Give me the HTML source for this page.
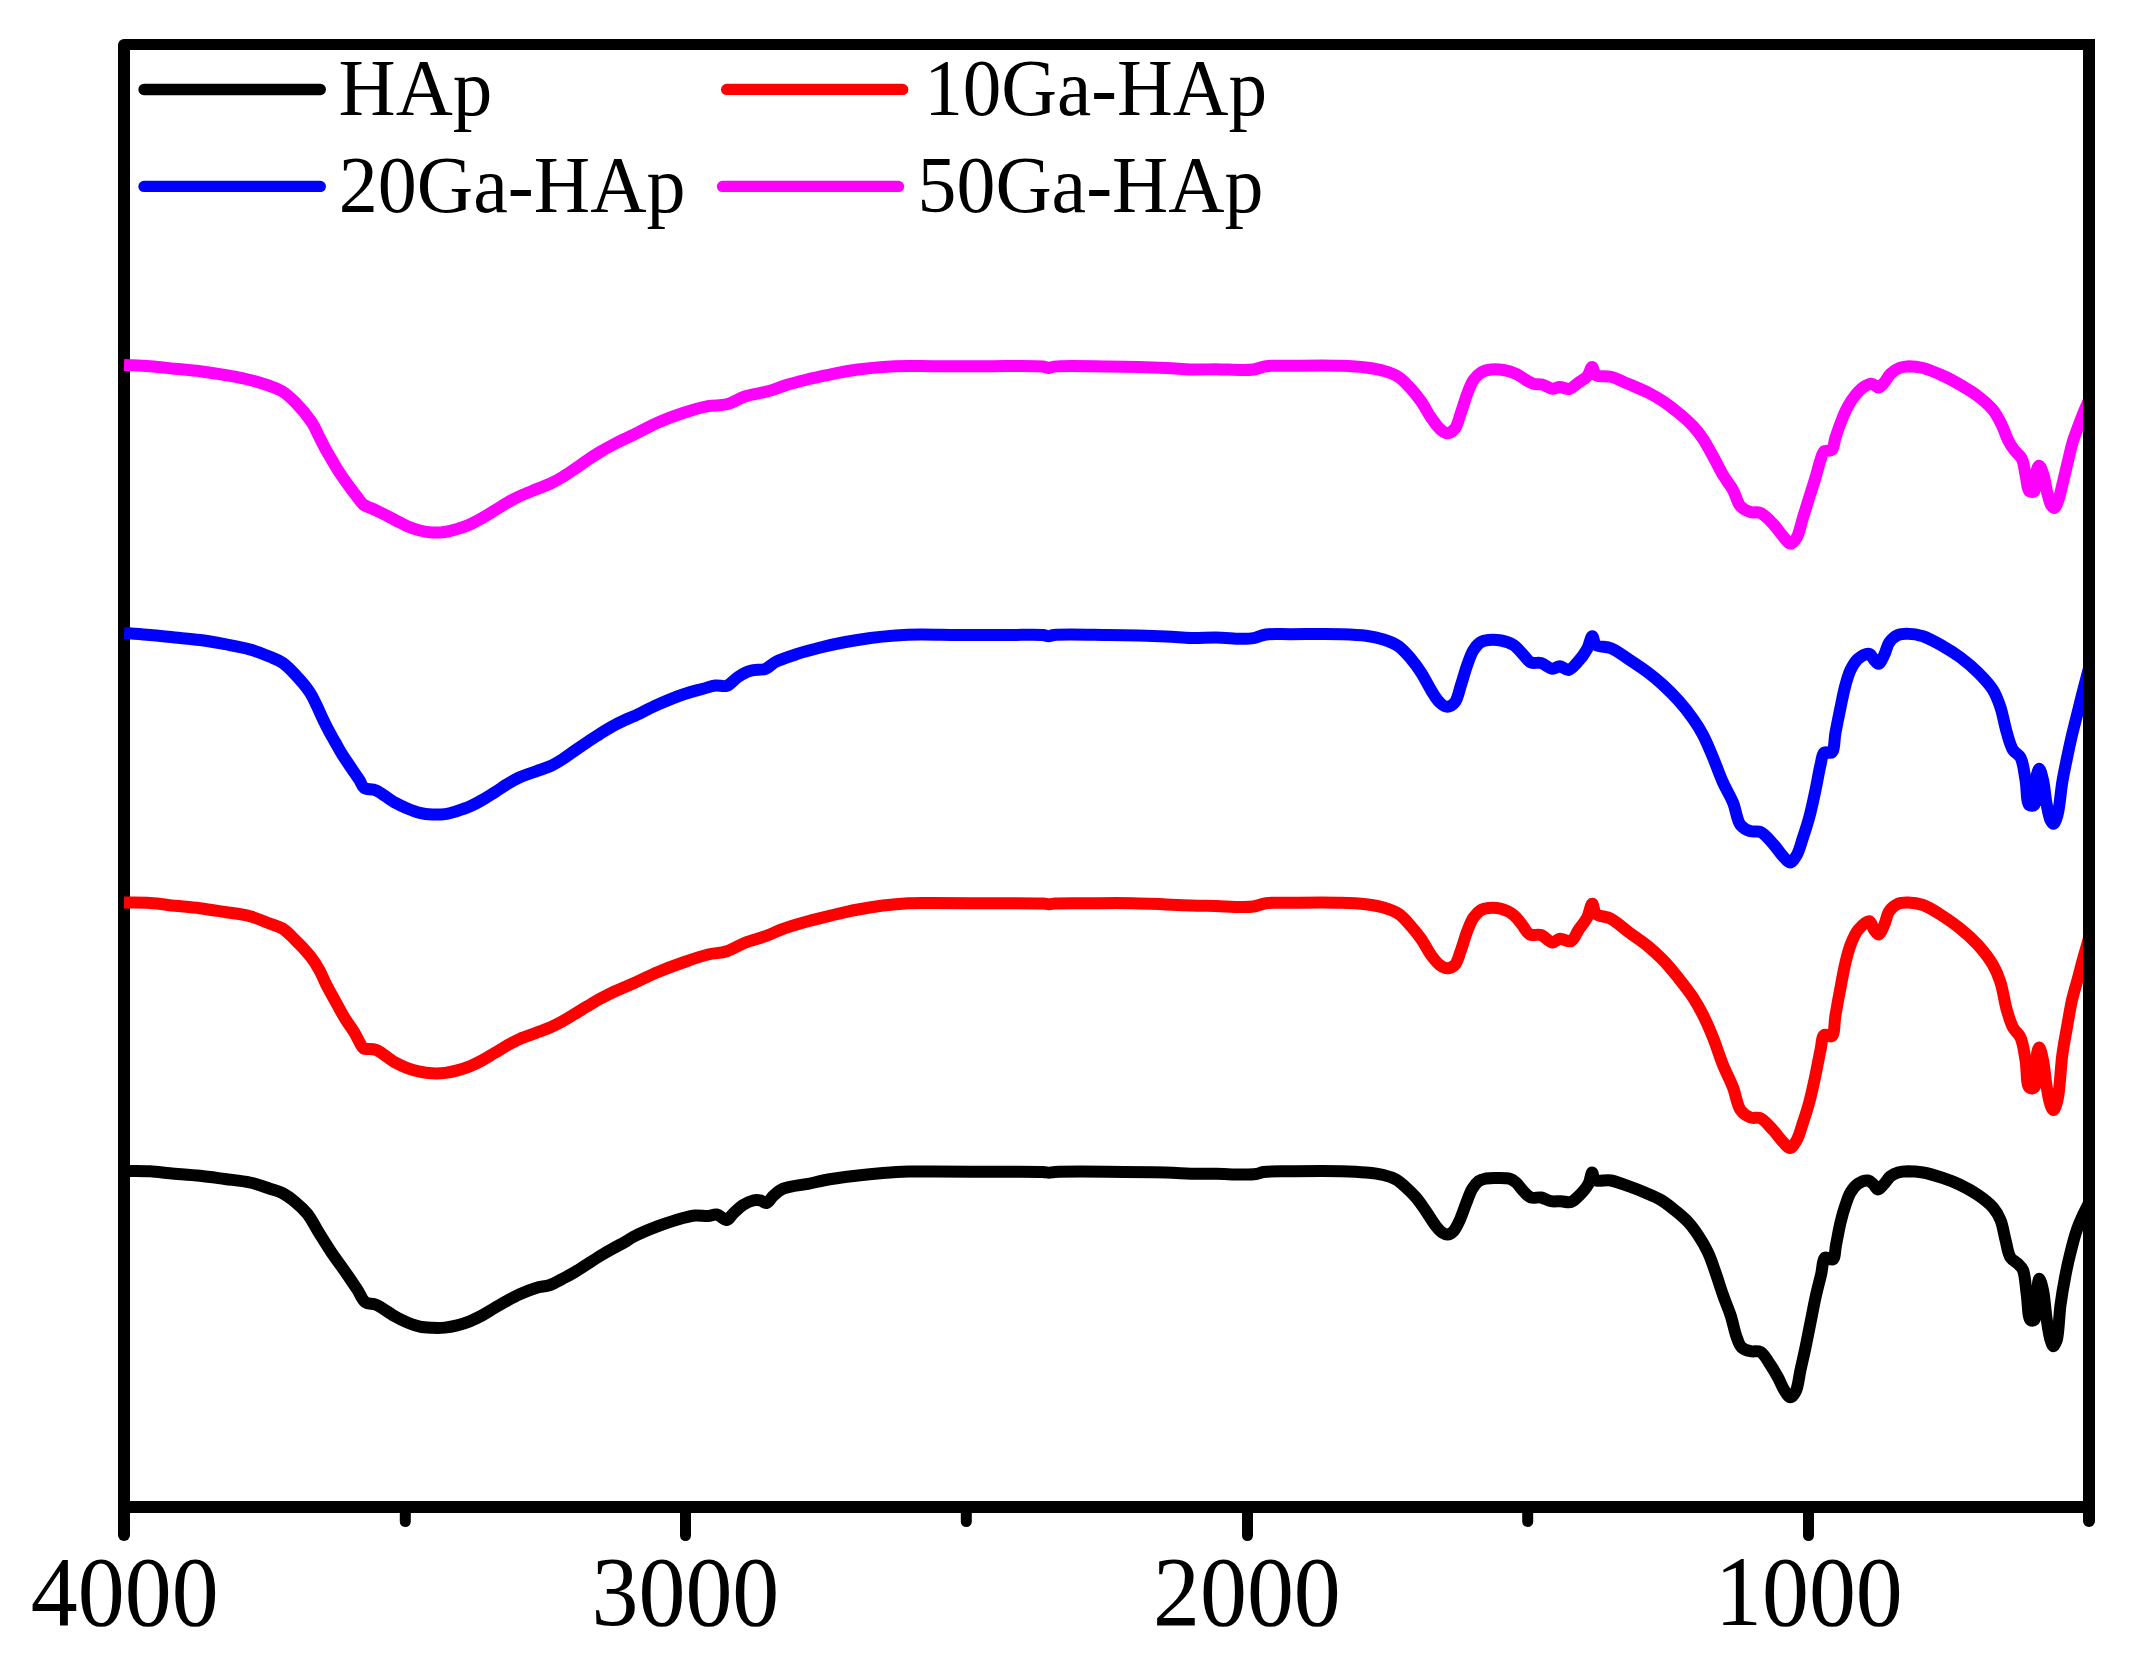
<!DOCTYPE html>
<html lang="en"><head><meta charset="utf-8"><title>FTIR spectra</title>
<style>
html,body{margin:0;padding:0;background:#fff;}
body{width:2131px;height:1662px;overflow:hidden;}
svg{display:block;}
text{font-family:"Liberation Serif","Times New Roman",serif;fill:#000;}
.leg{font-size:78px;}
.tick{font-size:92.8px;text-anchor:middle;}
.crv{fill:none;stroke-width:12;stroke-linejoin:round;stroke-linecap:butt;}
.ax{fill:none;stroke:#000;}
</style></head><body>
<svg width="2131" height="1662" viewBox="0 0 2131 1662">
<defs><clipPath id="plot"><rect x="124" y="50" width="1959" height="1451"/></clipPath></defs>
<rect width="2131" height="1662" fill="#fff"/>
<!-- frame: left, top -->
<line class="ax" stroke-width="12" stroke-linecap="round" x1="124" y1="45" x2="124" y2="1535"/>
<rect x="124" y="39" width="1971" height="11" fill="#000"/>
<!-- bottom axis -->
<line class="ax" stroke-width="12" x1="118" y1="1507" x2="2095" y2="1507"/>
<line class="ax" stroke-width="11" stroke-linecap="round" x1="685.5" y1="1507" x2="685.5" y2="1535.5"/>
<line class="ax" stroke-width="11" stroke-linecap="round" x1="1247.5" y1="1507" x2="1247.5" y2="1535.5"/>
<line class="ax" stroke-width="11" stroke-linecap="round" x1="1808.5" y1="1507" x2="1808.5" y2="1535.5"/>
<line class="ax" stroke-width="11" stroke-linecap="round" x1="405.3" y1="1507" x2="405.3" y2="1521.5"/>
<line class="ax" stroke-width="11" stroke-linecap="round" x1="966.3" y1="1507" x2="966.3" y2="1521.5"/>
<line class="ax" stroke-width="11" stroke-linecap="round" x1="1527.7" y1="1507" x2="1527.7" y2="1521.5"/>
<g clip-path="url(#plot)">
<path class="crv" stroke="#000" d="M124.0,1171.0C132.7,1171.1 141.9,1170.8 150.0,1171.3C157.1,1171.7 162.7,1172.6 170.0,1173.3C179.0,1174.1 190.5,1174.8 200.0,1175.8C208.7,1176.7 216.7,1177.9 225.0,1179.0C233.3,1180.1 242.2,1180.8 250.0,1182.5C257.1,1184.1 264.1,1186.8 270.0,1188.7C274.7,1190.2 278.5,1191.0 282.5,1193.1C286.8,1195.3 291.0,1198.5 295.0,1201.8C299.3,1205.3 303.5,1209.1 307.4,1213.9C311.9,1219.6 315.7,1227.6 319.9,1234.3C324.0,1240.9 328.1,1247.6 332.4,1253.9C336.5,1259.9 340.8,1265.4 344.9,1271.3C349.1,1277.3 353.7,1284.2 357.4,1289.8C360.4,1294.4 362.0,1299.9 365.5,1302.3C368.5,1304.4 372.2,1303.2 376.1,1304.8C381.6,1307.1 389.1,1313.2 394.8,1316.3C399.3,1318.8 403.1,1320.8 407.3,1322.5C411.4,1324.2 415.6,1325.7 419.8,1326.6C423.9,1327.5 428.1,1327.6 432.3,1327.8C436.5,1328.0 440.7,1328.0 444.8,1327.6C449.0,1327.2 453.1,1326.4 457.2,1325.4C461.4,1324.3 465.6,1322.9 469.7,1321.3C473.9,1319.6 478.1,1317.6 482.2,1315.4C486.4,1313.1 490.5,1310.4 494.7,1307.9C498.9,1305.5 503.0,1303.0 507.2,1300.7C511.3,1298.4 515.2,1296.2 519.7,1294.2C524.7,1291.9 530.7,1289.5 536.0,1287.9C540.8,1286.5 545.6,1286.5 550.0,1285.0C554.4,1283.5 558.4,1280.9 562.5,1278.8C566.7,1276.6 570.9,1274.4 575.0,1272.0C579.2,1269.5 583.3,1266.7 587.5,1264.0C591.7,1261.3 595.8,1258.6 600.0,1256.0C604.1,1253.5 608.3,1251.1 612.5,1248.8C616.6,1246.4 621.3,1244.1 625.0,1242.0C628.0,1240.3 629.5,1238.8 633.0,1237.0C638.9,1233.9 649.6,1229.4 658.0,1226.2C666.3,1223.1 676.0,1219.8 683.0,1218.0C687.8,1216.7 691.3,1215.8 695.5,1215.5C699.6,1215.2 704.2,1216.2 708.0,1216.0C711.2,1215.8 713.8,1214.0 716.8,1214.5C720.1,1215.1 723.9,1220.4 726.8,1220.0C729.2,1219.6 730.6,1216.0 733.0,1213.8C735.9,1211.0 739.5,1207.3 743.0,1205.0C746.2,1203.0 749.8,1201.2 753.0,1200.5C755.6,1199.9 758.2,1200.0 760.5,1200.5C762.7,1200.9 764.8,1203.4 766.8,1203.0C769.0,1202.5 770.6,1198.5 773.0,1196.2C775.8,1193.7 778.6,1190.7 783.0,1188.8C789.2,1186.0 799.7,1185.4 808.0,1183.8C816.3,1182.1 824.6,1180.1 833.0,1178.8C841.3,1177.4 849.7,1176.5 858.0,1175.5C866.3,1174.5 874.7,1173.7 883.0,1173.0C891.3,1172.3 899.7,1171.7 908.0,1171.5C916.3,1171.3 923.2,1171.5 933.0,1171.5C946.8,1171.5 965.6,1171.7 983.0,1171.8C1002.1,1171.8 1033.4,1171.3 1043.0,1172.0C1046.0,1172.2 1047.0,1172.8 1049.0,1172.8C1051.0,1172.8 1051.7,1172.2 1055.0,1172.0C1068.9,1171.1 1142.2,1172.0 1166.0,1172.6C1177.3,1172.9 1182.7,1173.6 1191.0,1173.8C1199.3,1173.9 1207.7,1173.6 1216.0,1173.8C1224.3,1173.9 1233.7,1174.5 1241.0,1174.5C1246.6,1174.5 1251.9,1174.6 1256.0,1174.0C1259.0,1173.6 1260.2,1172.5 1263.5,1172.0C1269.8,1171.1 1280.5,1171.4 1291.0,1171.2C1305.2,1171.1 1327.2,1170.9 1341.0,1171.2C1350.8,1171.5 1358.4,1171.8 1366.0,1172.5C1372.4,1173.1 1378.2,1173.7 1383.5,1175.0C1388.1,1176.1 1392.2,1177.4 1396.0,1179.5C1399.7,1181.6 1402.7,1184.6 1406.0,1187.5C1409.4,1190.6 1412.8,1193.8 1416.0,1197.5C1419.5,1201.6 1422.7,1206.5 1426.0,1211.2C1429.4,1216.1 1432.9,1222.4 1436.0,1226.2C1438.2,1228.9 1440.1,1231.1 1442.2,1232.5C1443.9,1233.6 1445.5,1234.6 1447.2,1234.5C1449.2,1234.4 1451.6,1233.1 1453.5,1231.2C1456.0,1228.8 1457.8,1224.2 1459.8,1220.0C1462.0,1215.2 1463.9,1209.0 1466.0,1203.8C1468.0,1198.6 1469.8,1192.8 1472.2,1188.8C1474.1,1185.6 1476.1,1183.0 1478.5,1181.2C1480.7,1179.7 1483.3,1179.1 1486.0,1178.5C1489.1,1177.9 1492.4,1178.0 1496.0,1178.0C1500.2,1178.0 1506.2,1177.7 1509.8,1178.8C1512.4,1179.6 1514.0,1180.8 1516.0,1182.5C1518.6,1184.7 1520.9,1188.7 1523.5,1191.2C1525.9,1193.6 1528.1,1196.5 1531.0,1197.5C1533.9,1198.6 1537.7,1196.9 1541.0,1197.5C1544.4,1198.1 1547.6,1200.6 1551.0,1201.2C1554.3,1201.8 1557.7,1201.1 1561.0,1201.2C1564.3,1201.4 1568.1,1202.9 1571.0,1202.0C1573.9,1201.1 1576.0,1198.7 1578.5,1196.2C1581.8,1193.0 1586.2,1188.0 1588.5,1183.8C1590.5,1180.1 1591.1,1172.5 1592.2,1172.5C1593.2,1172.5 1592.7,1178.5 1594.8,1180.0C1597.7,1182.2 1605.6,1179.5 1611.0,1180.5C1616.8,1181.5 1622.7,1184.2 1628.5,1186.2C1634.4,1188.3 1640.4,1190.6 1646.0,1193.0C1651.2,1195.2 1656.1,1197.1 1661.0,1200.0C1666.2,1203.1 1671.3,1207.4 1676.0,1211.2C1680.4,1214.9 1684.8,1218.5 1688.5,1222.5C1692.1,1226.4 1694.9,1230.4 1698.0,1235.0C1701.5,1240.2 1705.1,1246.3 1708.0,1252.5C1711.0,1258.8 1713.1,1265.6 1715.5,1272.5C1718.1,1279.8 1720.4,1287.7 1723.0,1295.0C1725.4,1301.9 1728.2,1308.1 1730.5,1315.0C1732.9,1322.2 1734.5,1331.6 1736.8,1337.5C1738.3,1341.6 1739.3,1345.2 1741.8,1347.5C1744.0,1349.6 1747.4,1350.5 1750.5,1351.2C1753.7,1352.0 1757.5,1350.4 1760.5,1352.0C1764.4,1354.1 1767.5,1360.6 1770.5,1365.0C1773.3,1369.1 1775.7,1373.3 1778.0,1377.5C1780.3,1381.6 1782.0,1386.5 1784.2,1390.0C1786.1,1392.9 1788.3,1397.3 1790.3,1397.3C1792.2,1397.3 1794.3,1394.2 1795.8,1391.2C1798.2,1386.5 1798.9,1377.2 1800.5,1370.0C1802.1,1362.6 1803.9,1355.2 1805.5,1347.5C1807.2,1339.4 1808.8,1330.8 1810.5,1322.5C1812.2,1314.2 1813.7,1305.6 1815.5,1297.5C1817.2,1289.8 1819.3,1282.0 1821.0,1275.0C1822.5,1268.8 1822.4,1259.2 1825.3,1257.5C1827.2,1256.4 1831.0,1260.6 1832.8,1259.5C1835.3,1258.0 1834.9,1250.4 1836.0,1245.0C1837.4,1238.3 1838.8,1229.5 1840.5,1222.5C1842.0,1216.3 1843.7,1210.3 1845.5,1205.0C1847.1,1200.4 1848.3,1196.1 1850.5,1192.5C1852.5,1189.1 1855.0,1185.8 1858.0,1183.8C1860.9,1181.8 1865.3,1180.1 1868.0,1180.5C1870.0,1180.8 1871.4,1182.4 1873.0,1183.8C1874.8,1185.3 1876.2,1189.4 1878.0,1189.5C1879.9,1189.6 1882.2,1185.9 1884.2,1183.8C1886.4,1181.5 1888.1,1178.2 1890.5,1176.2C1892.7,1174.5 1895.2,1173.3 1898.0,1172.5C1901.0,1171.6 1904.3,1171.3 1908.0,1171.2C1912.5,1171.2 1917.7,1171.6 1923.0,1172.5C1929.2,1173.6 1936.6,1175.9 1943.0,1178.0C1949.1,1180.0 1954.8,1182.2 1960.5,1185.0C1966.4,1187.9 1972.5,1191.2 1978.0,1195.0C1983.4,1198.7 1989.1,1203.0 1993.0,1207.5C1996.3,1211.4 1998.5,1215.2 2000.5,1220.0C2002.9,1225.7 2003.8,1233.6 2005.5,1240.0C2007.1,1246.0 2007.8,1253.4 2010.5,1257.5C2012.5,1260.5 2015.8,1261.6 2018.0,1263.8C2020.0,1265.7 2021.7,1267.0 2023.0,1270.0C2025.3,1275.4 2025.5,1286.7 2026.8,1295.0C2028.0,1303.3 2027.8,1317.7 2030.5,1320.0C2031.5,1320.9 2033.3,1320.9 2034.2,1320.0C2036.8,1317.7 2035.8,1302.4 2036.8,1295.0C2037.5,1289.0 2038.1,1278.8 2039.2,1278.8C2040.3,1278.7 2041.9,1285.3 2043.0,1290.0C2044.7,1297.5 2045.3,1311.0 2046.8,1320.0C2047.9,1327.4 2049.0,1335.3 2050.5,1340.0C2051.4,1342.7 2052.5,1346.2 2053.5,1346.2C2054.5,1346.3 2055.8,1343.1 2056.8,1340.0C2058.8,1333.2 2059.0,1316.2 2060.5,1305.0C2061.9,1294.6 2063.7,1284.3 2065.5,1275.0C2067.1,1266.9 2068.6,1260.0 2070.5,1252.5C2072.4,1245.0 2074.4,1236.7 2076.8,1230.0C2078.7,1224.4 2080.9,1219.7 2083.0,1215.0C2084.9,1210.7 2087.0,1207.0 2089.0,1203.0"/>
<path class="crv" stroke="#ff0000" d="M124.0,902.5C132.7,902.7 141.4,902.4 150.0,903.0C158.4,903.5 166.7,904.9 175.0,905.8C183.3,906.6 191.7,907.2 200.0,908.2C208.3,909.3 216.7,910.7 225.0,912.0C233.3,913.3 242.2,914.2 250.0,916.2C257.1,918.2 264.1,921.5 270.0,923.7C274.7,925.5 278.5,926.1 282.5,928.5C286.9,931.2 290.7,935.4 295.0,939.7C300.2,944.8 306.9,951.8 311.2,957.4C314.6,961.8 316.9,965.7 319.3,969.9C321.6,974.0 323.1,978.3 325.2,982.4C327.3,986.6 329.6,990.8 331.8,994.9C334.1,999.1 336.4,1003.2 338.7,1007.3C341.0,1011.5 343.2,1015.7 345.8,1019.8C348.4,1024.0 351.8,1028.2 354.3,1032.3C356.6,1036.1 358.4,1040.6 360.2,1043.5C361.4,1045.5 361.7,1047.2 363.5,1048.3C366.1,1049.9 371.6,1048.2 376.0,1049.8C381.9,1052.0 389.1,1059.1 394.8,1062.3C399.3,1064.8 403.1,1066.5 407.3,1068.1C411.4,1069.6 415.6,1070.7 419.8,1071.6C423.9,1072.5 428.1,1073.1 432.3,1073.3C436.5,1073.5 440.7,1073.4 444.8,1072.9C449.0,1072.4 453.1,1071.5 457.2,1070.4C461.4,1069.3 465.6,1067.9 469.7,1066.3C473.9,1064.6 478.1,1062.6 482.2,1060.4C486.4,1058.1 490.5,1055.4 494.7,1052.9C498.9,1050.4 503.0,1047.8 507.2,1045.4C511.3,1043.1 515.2,1040.9 519.7,1038.9C524.7,1036.7 530.8,1034.9 536.0,1032.9C540.9,1031.1 545.5,1029.5 550.0,1027.5C554.3,1025.6 558.4,1023.5 562.5,1021.2C566.7,1018.9 570.8,1016.2 575.0,1013.8C579.2,1011.2 583.3,1008.8 587.5,1006.2C591.7,1003.8 595.8,1001.1 600.0,998.8C604.1,996.5 608.3,994.5 612.5,992.5C616.6,990.6 621.3,988.6 625.0,987.0C628.0,985.7 629.6,985.0 633.0,983.5C639.0,980.8 649.6,975.5 658.0,972.0C666.3,968.5 674.6,965.4 683.0,962.5C691.3,959.6 700.2,956.4 708.0,954.5C714.6,952.9 720.6,953.2 726.8,951.2C733.1,949.2 739.1,945.0 745.5,942.5C752.0,940.0 759.1,938.6 765.5,936.2C771.6,934.0 776.6,931.1 783.0,928.8C790.5,926.0 799.6,923.5 808.0,921.2C816.3,919.0 824.7,917.0 833.0,915.0C841.3,913.0 849.6,911.1 858.0,909.5C866.3,907.9 874.6,906.5 883.0,905.5C891.3,904.5 899.7,903.7 908.0,903.2C916.3,902.8 923.2,903.0 933.0,903.0C946.8,903.0 965.6,903.2 983.0,903.2C1002.1,903.3 1033.2,902.9 1043.0,903.5C1046.2,903.7 1047.2,904.3 1049.2,904.2C1051.2,904.2 1052.4,903.7 1055.0,903.5C1060.8,903.1 1072.3,903.3 1083.0,903.2C1097.3,903.2 1118.1,903.0 1133.0,903.2C1145.1,903.5 1155.8,904.0 1166.0,904.4C1174.9,904.8 1182.7,905.2 1191.0,905.5C1199.3,905.8 1207.7,905.8 1216.0,906.0C1224.3,906.3 1234.1,907.0 1241.0,907.0C1245.9,907.0 1249.4,907.1 1253.5,906.5C1257.7,905.9 1261.1,903.9 1266.0,903.2C1272.9,902.3 1281.2,902.8 1291.0,902.8C1304.8,902.6 1327.2,902.3 1341.0,902.8C1350.8,903.0 1358.4,903.3 1366.0,904.2C1372.4,905.0 1378.0,905.9 1383.5,907.5C1388.8,909.1 1394.0,910.7 1398.5,913.8C1403.2,916.9 1407.2,922.0 1411.0,926.2C1414.6,930.3 1417.8,934.2 1421.0,938.8C1424.5,943.7 1427.6,950.4 1431.0,955.0C1433.9,958.9 1436.7,962.8 1439.8,965.0C1442.2,966.8 1444.8,968.2 1447.2,968.2C1449.8,968.2 1452.7,967.1 1454.8,965.0C1457.7,962.0 1459.0,955.3 1461.0,950.0C1463.2,944.1 1465.0,937.0 1467.2,931.2C1469.2,926.3 1470.9,921.2 1473.5,917.5C1475.7,914.4 1478.3,911.6 1481.0,910.0C1483.3,908.7 1485.7,908.3 1488.5,908.0C1492.1,907.6 1496.9,907.7 1501.0,908.8C1505.3,909.9 1509.9,912.2 1513.5,915.0C1517.0,917.7 1519.5,921.7 1522.2,925.0C1524.9,928.2 1526.5,932.9 1529.8,934.5C1532.8,936.1 1537.4,933.8 1541.0,935.0C1544.9,936.3 1548.8,942.3 1552.2,942.5C1554.9,942.7 1556.9,939.1 1559.8,938.8C1563.1,938.3 1567.9,942.5 1571.0,941.2C1574.3,939.9 1575.9,933.8 1578.5,930.0C1581.3,925.9 1584.9,921.9 1587.2,917.5C1589.5,913.2 1590.7,903.8 1592.2,903.8C1593.6,903.7 1593.5,911.3 1596.0,913.8C1599.1,916.7 1606.0,916.1 1611.0,918.8C1616.9,921.8 1622.5,927.5 1628.5,932.0C1634.8,936.7 1642.0,941.4 1648.0,946.2C1653.5,950.7 1658.1,955.0 1663.0,960.0C1668.2,965.3 1673.1,971.4 1678.0,977.5C1683.1,983.9 1688.7,990.9 1693.0,997.5C1696.9,1003.4 1699.8,1008.7 1703.0,1015.0C1706.5,1021.9 1709.8,1029.6 1713.0,1037.5C1716.5,1046.2 1719.5,1056.3 1723.0,1065.0C1726.2,1072.9 1730.1,1079.9 1733.0,1087.5C1735.9,1094.9 1736.8,1104.9 1740.5,1110.0C1743.2,1113.7 1747.0,1116.2 1750.5,1117.5C1753.7,1118.7 1757.2,1116.8 1760.5,1118.2C1764.8,1120.1 1769.2,1125.9 1773.0,1130.0C1776.6,1133.9 1779.8,1138.8 1783.0,1142.0C1785.4,1144.5 1787.8,1148.2 1790.0,1148.0C1792.4,1147.8 1794.8,1143.4 1796.8,1140.0C1799.4,1135.5 1801.0,1128.5 1803.0,1122.5C1805.1,1116.1 1807.3,1109.7 1809.2,1102.5C1811.5,1094.1 1813.6,1084.0 1815.5,1075.0C1817.3,1066.5 1818.9,1057.3 1820.5,1050.0C1821.8,1044.3 1821.6,1036.7 1824.2,1035.0C1826.1,1033.8 1829.9,1037.6 1831.8,1036.2C1834.9,1034.1 1834.1,1022.5 1835.5,1015.0C1837.0,1006.4 1838.8,996.4 1840.5,987.5C1842.1,979.0 1843.7,970.1 1845.5,962.5C1847.0,956.1 1848.4,950.5 1850.5,945.0C1852.6,939.7 1854.7,934.0 1858.0,930.0C1861.1,926.3 1866.5,920.7 1869.2,921.2C1871.6,921.7 1872.5,927.6 1874.2,930.0C1875.6,931.8 1877.1,934.7 1878.5,934.5C1880.4,934.3 1882.5,928.6 1884.2,925.0C1886.2,920.9 1886.7,914.9 1889.2,911.2C1891.5,908.0 1894.7,905.2 1898.0,903.8C1901.0,902.4 1904.3,902.4 1908.0,902.5C1912.5,902.6 1917.8,903.2 1923.0,905.0C1929.4,907.2 1936.7,912.2 1943.0,916.2C1949.1,920.2 1954.8,924.1 1960.5,928.8C1966.5,933.6 1972.6,939.0 1978.0,945.0C1983.5,951.1 1989.1,958.3 1993.0,965.0C1996.4,970.8 1998.4,975.9 2000.5,982.5C2003.1,990.5 2004.4,1001.9 2006.8,1010.0C2008.7,1016.6 2010.4,1022.6 2013.0,1027.5C2015.1,1031.5 2018.5,1033.2 2020.5,1037.5C2023.2,1043.3 2024.1,1052.1 2025.5,1060.0C2027.1,1068.7 2026.1,1084.8 2029.2,1087.5C2030.6,1088.7 2033.0,1088.7 2034.2,1087.5C2037.5,1084.5 2035.3,1062.0 2036.8,1055.0C2037.4,1051.6 2038.4,1047.5 2039.2,1047.5C2040.4,1047.5 2041.9,1055.0 2043.0,1060.0C2044.6,1067.3 2045.3,1079.4 2046.8,1087.5C2047.9,1094.0 2048.9,1101.0 2050.5,1105.0C2051.4,1107.3 2052.5,1110.1 2053.5,1110.0C2054.8,1109.9 2056.3,1104.6 2057.5,1100.0C2059.9,1090.5 2060.5,1068.3 2062.3,1055.0C2063.8,1044.3 2065.5,1035.4 2067.2,1026.0C2068.8,1017.1 2070.1,1008.3 2072.0,1000.0C2073.8,992.3 2076.1,985.1 2078.0,978.0C2079.8,971.4 2081.2,965.5 2083.0,959.0C2084.9,952.2 2087.0,945.0 2089.0,938.0"/>
<path class="crv" stroke="#0000ff" d="M124.0,633.0C132.7,633.7 141.4,634.2 150.0,635.0C158.4,635.7 166.7,636.7 175.0,637.5C183.3,638.3 191.7,638.9 200.0,640.0C208.4,641.1 216.7,642.7 225.0,644.2C233.3,645.8 242.2,647.3 250.0,649.5C257.1,651.5 264.2,654.4 270.0,656.8C274.7,658.8 278.5,660.0 282.5,662.7C286.9,665.7 290.8,669.8 295.0,674.3C299.9,679.5 306.2,686.7 309.9,692.4C312.8,696.8 314.4,700.7 316.4,704.9C318.4,709.0 320.1,713.2 322.1,717.4C324.1,721.6 326.1,725.8 328.3,729.9C330.5,734.1 332.9,738.2 335.2,742.3C337.6,746.5 339.8,750.7 342.4,754.8C345.0,759.0 348.0,763.1 350.8,767.3C353.6,771.5 356.9,776.1 359.3,779.8C361.2,782.8 361.7,786.1 364.2,787.9C367.0,789.9 371.9,788.6 376.1,790.4C381.8,792.8 389.1,799.4 394.8,802.6C399.3,805.1 403.1,806.8 407.3,808.5C411.4,810.2 415.6,811.9 419.8,812.9C423.9,813.9 428.1,814.3 432.3,814.5C436.5,814.7 440.7,814.7 444.8,814.1C449.0,813.5 453.1,812.2 457.2,811.0C461.4,809.7 465.6,808.4 469.7,806.6C473.9,804.7 478.1,802.4 482.2,800.0C486.4,797.6 490.5,794.9 494.7,792.3C498.9,789.7 503.0,786.7 507.2,784.2C511.3,781.7 515.2,779.4 519.7,777.3C524.7,775.0 530.8,773.2 536.0,771.3C540.8,769.5 545.5,768.3 550.0,766.2C554.4,764.3 558.4,761.8 562.5,759.2C566.7,756.6 570.8,753.4 575.0,750.5C579.2,747.6 583.3,744.8 587.5,742.0C591.7,739.2 595.8,736.4 600.0,733.8C604.1,731.1 608.3,728.6 612.5,726.2C616.6,724.0 621.3,721.7 625.0,720.0C627.9,718.6 629.6,718.1 633.0,716.6C639.0,713.9 649.6,708.2 658.0,704.5C666.3,700.9 675.1,697.2 683.0,694.5C690.0,692.1 697.1,690.4 703.0,688.8C707.6,687.5 711.4,686.0 715.5,685.5C719.3,685.1 723.2,686.9 726.8,685.8C730.7,684.4 734.0,679.5 738.0,677.0C741.9,674.5 746.0,672.1 750.5,670.8C755.2,669.3 761.2,670.4 765.5,668.8C769.4,667.3 771.4,664.1 775.5,662.0C780.9,659.2 788.4,656.8 795.5,654.5C803.3,651.9 812.1,649.6 820.5,647.5C828.8,645.4 837.1,643.6 845.5,642.0C853.8,640.4 862.2,639.1 870.5,638.0C878.8,636.9 887.2,636.1 895.5,635.5C903.8,634.9 911.3,634.6 920.5,634.5C931.7,634.4 944.6,634.9 958.0,635.0C973.5,635.1 992.8,635.0 1008.0,635.0C1020.7,635.0 1036.4,634.3 1043.0,635.0C1045.6,635.3 1046.7,636.2 1048.5,636.2C1050.3,636.2 1051.2,635.3 1054.0,635.0C1062.7,634.0 1089.7,634.8 1108.0,635.0C1127.0,635.2 1150.7,635.8 1166.0,636.5C1176.1,636.9 1182.7,637.8 1191.0,638.0C1199.3,638.2 1207.7,637.4 1216.0,637.5C1224.3,637.6 1234.1,638.7 1241.0,638.8C1245.9,638.8 1249.4,638.9 1253.5,638.2C1257.7,637.5 1261.1,635.3 1266.0,634.5C1272.8,633.5 1281.2,634.3 1291.0,634.2C1304.8,634.2 1327.2,633.8 1341.0,634.2C1350.8,634.5 1358.4,634.7 1366.0,635.8C1372.4,636.6 1378.0,637.7 1383.5,639.5C1388.8,641.2 1394.0,643.1 1398.5,646.2C1403.2,649.5 1407.2,654.3 1411.0,658.8C1414.7,663.1 1417.8,667.5 1421.0,672.5C1424.5,677.9 1427.7,684.7 1431.0,690.0C1433.9,694.6 1436.6,699.6 1439.8,702.5C1442.1,704.7 1444.8,706.8 1447.2,706.8C1449.8,706.8 1452.7,705.0 1454.8,702.5C1457.8,698.9 1459.0,691.0 1461.0,685.0C1463.1,678.6 1465.0,671.1 1467.2,665.0C1469.2,659.6 1470.9,654.0 1473.5,650.0C1475.6,646.7 1478.2,643.6 1481.0,642.0C1483.3,640.6 1485.7,640.3 1488.5,640.0C1492.1,639.6 1496.9,639.7 1501.0,640.5C1505.2,641.3 1509.8,642.6 1513.5,645.0C1517.3,647.4 1520.4,651.9 1523.5,655.0C1526.2,657.7 1528.0,661.2 1531.0,662.5C1533.9,663.8 1537.7,662.1 1541.0,663.0C1544.7,664.0 1548.8,668.5 1552.2,668.8C1555.0,669.0 1557.2,666.1 1559.8,666.2C1562.6,666.4 1565.7,670.4 1568.5,670.0C1571.6,669.5 1574.4,665.6 1577.2,662.5C1580.7,658.8 1584.7,653.4 1587.2,648.8C1589.5,644.6 1590.7,636.3 1592.2,636.2C1593.6,636.2 1593.6,643.0 1596.0,645.0C1599.1,647.5 1606.0,646.2 1611.0,648.2C1616.7,650.5 1622.2,654.9 1628.0,658.8C1634.4,663.0 1641.9,667.9 1648.0,672.5C1653.5,676.6 1658.1,680.5 1663.0,685.0C1668.1,689.7 1673.1,694.6 1678.0,700.0C1683.2,705.8 1688.7,712.6 1693.0,718.8C1696.9,724.2 1699.9,729.0 1703.0,735.0C1706.6,741.8 1709.7,749.8 1713.0,757.5C1716.4,765.6 1719.5,774.7 1723.0,782.5C1726.2,789.6 1730.1,795.5 1733.0,802.5C1736.0,809.7 1736.7,820.2 1740.5,825.0C1743.2,828.4 1747.0,830.1 1750.5,831.2C1753.7,832.3 1757.2,830.6 1760.5,832.0C1764.8,833.9 1769.2,839.6 1773.0,843.8C1776.7,847.7 1779.8,852.9 1783.0,856.2C1785.4,858.8 1787.7,862.6 1790.0,862.5C1792.3,862.4 1794.8,858.3 1796.8,855.0C1799.4,850.6 1801.0,843.5 1803.0,837.5C1805.1,831.1 1807.3,824.7 1809.2,817.5C1811.5,809.1 1813.6,799.0 1815.5,790.0C1817.3,781.5 1818.8,771.9 1820.5,765.0C1821.7,760.1 1821.8,754.3 1824.2,752.5C1826.1,751.1 1829.9,754.0 1831.8,752.5C1834.8,750.0 1834.1,739.5 1835.5,732.5C1837.0,724.6 1838.8,715.6 1840.5,707.5C1842.1,699.8 1843.6,691.7 1845.5,685.0C1847.0,679.5 1848.3,674.5 1850.5,670.0C1852.5,665.8 1854.8,661.5 1858.0,658.8C1861.1,656.1 1866.4,653.1 1869.2,653.8C1871.5,654.3 1872.6,658.2 1874.2,660.0C1875.7,661.5 1877.1,663.9 1878.5,663.8C1880.4,663.5 1882.5,658.3 1884.2,655.0C1886.2,651.3 1886.8,645.9 1889.2,642.5C1891.5,639.3 1894.7,636.4 1898.0,635.0C1901.0,633.7 1904.3,633.7 1908.0,633.8C1912.5,633.8 1917.8,634.6 1923.0,636.2C1929.3,638.3 1936.6,642.6 1943.0,646.2C1949.1,649.7 1954.8,653.3 1960.5,657.5C1966.5,662.0 1972.6,667.1 1978.0,672.5C1983.4,677.9 1989.2,683.9 1993.0,690.0C1996.5,695.6 1998.3,701.1 2000.5,707.5C2003.0,715.0 2004.5,725.0 2006.8,732.5C2008.7,738.9 2010.2,745.6 2013.0,750.0C2015.1,753.3 2018.6,754.0 2020.5,757.5C2023.4,762.7 2024.1,772.3 2025.5,780.0C2027.0,788.1 2026.3,802.4 2029.2,805.0C2030.6,806.1 2033.0,806.2 2034.2,805.0C2037.4,802.1 2035.3,781.2 2036.8,775.0C2037.4,772.1 2038.4,768.7 2039.2,768.8C2040.4,768.8 2041.9,775.5 2043.0,780.0C2044.6,786.6 2045.3,797.8 2046.8,805.0C2047.9,810.7 2048.9,816.8 2050.5,820.0C2051.4,821.8 2052.5,823.9 2053.5,823.8C2054.9,823.6 2056.3,819.0 2057.5,815.0C2059.7,807.6 2060.6,792.1 2062.3,782.0C2063.8,773.3 2065.4,765.9 2067.0,758.0C2068.6,750.2 2070.2,742.7 2072.0,735.0C2073.9,727.1 2076.1,718.6 2078.0,711.0C2079.7,704.0 2081.2,697.9 2083.0,691.0C2084.9,683.6 2087.0,675.7 2089.0,668.0"/>
<path class="crv" stroke="#ff00ff" stroke-width="11.2" d="M124.0,365.0C132.7,365.4 141.4,365.6 150.0,366.2C158.4,366.9 166.7,367.9 175.0,368.8C183.3,369.6 191.7,370.2 200.0,371.2C208.3,372.3 216.7,373.5 225.0,375.0C233.4,376.5 242.2,378.0 250.0,380.0C257.1,381.8 264.2,383.9 270.0,386.0C274.7,387.7 278.5,389.0 282.5,391.5C286.9,394.2 290.7,397.8 295.0,402.1C300.4,407.6 307.7,416.3 311.8,422.4C314.8,426.9 316.2,430.7 318.3,434.9C320.4,439.1 322.4,443.3 324.6,447.4C326.9,451.6 329.4,455.8 331.8,459.9C334.3,464.1 336.6,468.2 339.3,472.3C342.0,476.5 345.0,480.7 348.0,484.8C351.0,489.0 354.6,493.8 357.4,497.3C359.5,500.0 360.5,502.2 363.0,504.2C366.3,506.8 371.4,508.1 376.1,510.4C381.8,513.2 389.2,516.9 394.8,519.8C399.4,522.1 403.1,524.5 407.3,526.3C411.4,528.0 415.6,529.5 419.8,530.5C423.9,531.5 428.1,532.3 432.3,532.5C436.5,532.7 440.7,532.6 444.8,532.0C449.0,531.4 453.1,530.3 457.2,529.1C461.4,527.8 465.6,526.3 469.7,524.5C473.9,522.6 478.1,520.2 482.2,517.9C486.4,515.5 490.5,512.9 494.7,510.4C498.9,507.9 503.0,505.1 507.2,502.7C511.3,500.3 515.2,498.2 519.7,496.1C524.7,493.7 530.8,491.5 536.0,489.4C540.8,487.4 545.5,485.9 550.0,483.8C554.3,481.7 558.4,479.5 562.5,477.0C566.7,474.5 570.9,471.6 575.0,468.8C579.2,465.9 583.3,462.8 587.5,460.0C591.6,457.2 595.8,454.5 600.0,452.0C604.1,449.5 608.3,447.2 612.5,445.0C616.6,442.8 621.3,440.5 625.0,438.8C628.0,437.3 629.6,436.6 633.0,435.0C639.0,432.1 649.6,426.2 658.0,422.5C666.2,418.9 674.6,415.7 683.0,413.0C691.3,410.3 700.2,407.7 708.0,406.2C714.6,405.0 720.6,405.8 726.8,404.2C733.1,402.6 738.9,398.4 745.5,396.2C752.6,394.0 760.8,393.3 768.0,391.2C774.9,389.3 781.3,386.5 788.0,384.5C794.6,382.5 800.9,381.0 808.0,379.2C815.9,377.4 824.6,375.4 833.0,373.8C841.3,372.1 849.6,370.6 858.0,369.5C866.3,368.4 874.7,367.6 883.0,367.0C891.3,366.4 899.7,366.1 908.0,366.0C916.3,365.9 923.2,366.2 933.0,366.2C946.8,366.3 965.6,366.2 983.0,366.2C1002.1,366.3 1033.7,365.2 1043.0,366.5C1045.9,366.9 1046.7,368.0 1048.5,368.0C1050.3,368.0 1051.2,367.0 1054.0,366.6C1062.7,365.5 1089.7,366.3 1108.0,366.5C1127.0,366.7 1150.7,367.3 1166.0,368.0C1176.1,368.4 1182.7,369.3 1191.0,369.5C1199.3,369.7 1207.7,369.2 1216.0,369.2C1224.3,369.3 1234.1,370.0 1241.0,370.0C1245.9,370.0 1249.4,370.1 1253.5,369.5C1257.7,368.9 1261.1,366.9 1266.0,366.2C1272.9,365.3 1281.2,365.8 1291.0,365.8C1304.8,365.6 1327.2,365.3 1341.0,365.8C1350.8,366.1 1358.4,366.5 1366.0,367.5C1372.4,368.3 1378.0,369.1 1383.5,370.8C1388.8,372.3 1394.0,374.1 1398.5,377.0C1403.2,380.0 1407.2,384.6 1411.0,388.8C1414.7,392.7 1417.8,396.7 1421.0,401.2C1424.5,406.2 1427.6,412.7 1431.0,417.5C1433.9,421.7 1436.7,426.0 1439.8,428.8C1442.2,430.9 1444.8,433.2 1447.2,433.2C1449.8,433.2 1452.7,431.2 1454.8,428.8C1457.7,425.3 1459.0,418.1 1461.0,412.5C1463.2,406.5 1465.0,399.5 1467.2,393.8C1469.2,388.8 1470.9,383.7 1473.5,380.0C1475.7,376.9 1478.1,374.3 1481.0,372.5C1483.9,370.8 1487.4,369.9 1491.0,369.5C1494.9,369.0 1499.4,369.3 1503.5,370.0C1507.7,370.7 1512.2,372.0 1516.0,373.8C1519.6,375.4 1522.9,378.2 1526.0,380.0C1528.6,381.5 1530.8,383.0 1533.5,383.8C1536.2,384.5 1539.3,383.8 1542.2,384.5C1545.5,385.3 1549.1,388.5 1552.2,388.8C1554.9,389.0 1557.1,387.1 1559.8,387.0C1562.8,386.9 1566.7,389.5 1569.8,388.8C1572.9,388.0 1575.6,384.6 1578.5,382.5C1581.4,380.4 1585.0,378.9 1587.2,376.2C1589.5,373.7 1590.7,367.0 1592.2,367.0C1593.6,367.0 1593.6,373.3 1596.0,375.0C1599.1,377.2 1605.9,375.4 1611.0,376.8C1616.6,378.2 1622.1,381.3 1628.0,383.8C1634.4,386.5 1641.9,389.4 1648.0,392.5C1653.4,395.3 1658.1,398.0 1663.0,401.2C1668.1,404.6 1673.1,408.4 1678.0,412.5C1683.1,416.7 1688.7,421.6 1693.0,426.2C1696.9,430.4 1699.8,434.1 1703.0,438.8C1706.5,444.0 1709.7,450.3 1713.0,456.2C1716.4,462.4 1719.5,469.2 1723.0,475.0C1726.2,480.4 1730.1,484.8 1733.0,490.0C1735.9,495.2 1737.1,502.5 1740.5,506.2C1743.2,509.2 1747.0,510.9 1750.5,512.0C1753.7,513.0 1757.2,511.6 1760.5,513.0C1764.7,514.8 1769.2,519.8 1773.0,523.8C1776.7,527.6 1779.8,532.7 1783.0,536.2C1785.6,539.2 1788.1,543.8 1790.5,543.8C1792.7,543.8 1795.0,540.5 1796.8,537.5C1799.5,532.9 1800.9,524.2 1803.0,517.5C1805.1,510.8 1807.2,504.2 1809.2,497.5C1811.3,490.8 1813.6,484.0 1815.5,477.5C1817.3,471.5 1818.8,464.8 1820.5,460.0C1821.7,456.5 1822.2,452.9 1824.2,451.2C1826.1,449.8 1829.9,451.6 1831.8,450.0C1834.1,447.9 1834.0,442.0 1835.5,437.5C1837.3,432.1 1839.5,425.4 1841.8,420.0C1843.7,415.1 1845.6,410.5 1848.0,406.2C1850.2,402.2 1852.8,398.3 1855.5,395.0C1857.9,392.1 1860.2,389.4 1863.0,387.5C1865.6,385.7 1869.1,383.6 1871.8,383.8C1874.2,383.9 1876.4,387.7 1878.5,387.5C1880.6,387.3 1882.4,384.5 1884.2,382.5C1886.4,380.1 1888.0,376.2 1890.5,373.8C1893.0,371.4 1896.1,369.2 1899.2,368.0C1902.4,366.8 1905.6,366.3 1909.2,366.2C1913.5,366.2 1918.1,366.8 1923.0,368.0C1929.1,369.6 1936.6,372.8 1943.0,375.8C1949.1,378.5 1954.7,381.6 1960.5,385.0C1966.4,388.5 1972.6,392.1 1978.0,396.2C1983.4,400.4 1989.0,405.0 1993.0,410.0C1996.7,414.6 1999.2,419.9 2001.8,425.0C2004.2,429.9 2005.7,435.6 2008.0,440.0C2009.9,443.8 2011.9,446.9 2014.2,450.0C2016.5,453.1 2019.9,455.0 2021.8,458.8C2024.2,463.6 2024.7,471.7 2026.0,477.5C2027.1,482.4 2027.1,489.5 2029.2,491.2C2030.5,492.3 2033.0,492.4 2034.2,491.2C2036.8,488.9 2035.3,474.3 2036.8,470.0C2037.4,467.9 2038.4,465.7 2039.2,465.8C2040.5,465.8 2042.3,471.4 2043.5,475.0C2045.1,479.8 2045.9,487.2 2047.2,492.5C2048.4,497.0 2049.4,502.4 2051.0,505.0C2052.0,506.5 2053.2,508.2 2054.2,508.0C2055.6,507.8 2056.9,504.1 2058.0,501.2C2059.7,496.9 2061.0,490.0 2062.5,484.0C2064.2,477.4 2065.8,470.1 2067.5,463.0C2069.3,455.7 2071.0,447.5 2073.0,441.0C2074.6,435.8 2076.3,431.6 2078.0,427.0C2079.6,422.6 2081.2,418.4 2083.0,414.0C2084.9,409.4 2087.0,404.7 2089.0,400.0"/>
</g>
<line class="ax" stroke-width="12" stroke-linecap="round" x1="2089" y1="45" x2="2089" y2="1521"/>
<rect x="2083" y="39" width="12" height="8" fill="#000"/>
<line x1="144" y1="89.5" x2="320.3" y2="89.5" stroke="#000" stroke-width="11.3" stroke-linecap="round"/>
<line x1="144" y1="186.4" x2="320.3" y2="186.4" stroke="#0000ff" stroke-width="11.3" stroke-linecap="round"/>
<line x1="726.7" y1="89.4" x2="902.7" y2="89.4" stroke="#ff0000" stroke-width="11.3" stroke-linecap="round"/>
<line x1="722.5" y1="186.4" x2="898.5" y2="186.4" stroke="#ff00ff" stroke-width="11.3" stroke-linecap="round"/>
<text class="leg" transform="translate(338.5,115.0) scale(1.0146,1.02)">HAp</text>
<text class="leg" transform="translate(338.8,212.1) scale(1.0006,1.02)">20Ga-HAp</text>
<text class="leg" transform="translate(924.2,115.0) scale(0.9894,1.02)">10Ga-HAp</text>
<text class="leg" transform="translate(917.6,212.1) scale(0.9978,1.02)">50Ga-HAp</text>
<text class="tick" transform="translate(124.7,1624.9) scale(1.0117,1.062)">4000</text>
<text class="tick" transform="translate(685.4,1624.9) scale(1.0117,1.062)">3000</text>
<text class="tick" transform="translate(1246.9,1624.9) scale(1.0117,1.062)">2000</text>
<text class="tick" transform="translate(1808.9,1624.9) scale(1.0117,1.062)">1000</text>
</svg>
</body></html>
